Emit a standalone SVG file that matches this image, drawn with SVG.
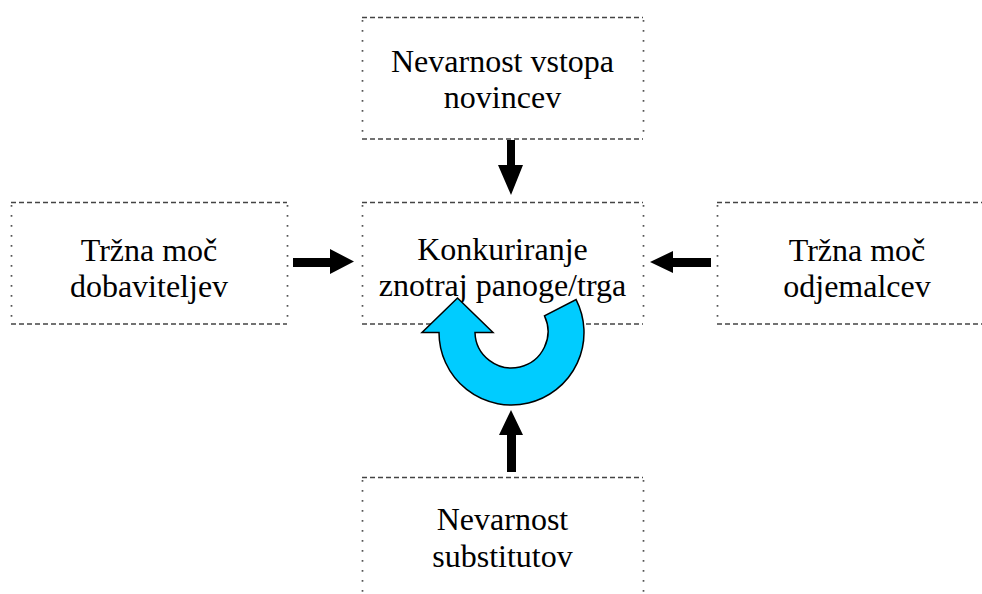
<svg xmlns="http://www.w3.org/2000/svg" width="982" height="594" viewBox="0 0 982 594">
  <style>
    .bg { fill: #ffffff; }
    .edge-h { fill: none; stroke: #444444; stroke-width: 1.7; stroke-dasharray: 5 3; }
    .edge-v { fill: none; stroke: #555555; stroke-width: 1.7; stroke-dasharray: 1.7 8.3; }
    .label { font-family: "Liberation Serif", "DejaVu Serif", "Times New Roman", Times, serif; font-size: 32px; fill: #000000; text-anchor: middle; }
    .arrow { fill: #000000; stroke: none; }
    .cycle { fill: #00ccff; stroke: #000000; stroke-width: 1.5; stroke-linejoin: miter; }
  </style>

  <rect class="bg" x="0" y="0" width="982" height="594"/>

  <!-- Threat of new entrants -->
  <g id="node-entrants">
    <path class="edge-h" d="M362 17.5 H643 M362 139 H643"/>
    <path class="edge-v" d="M362.5 20 V139 M643.5 20 V139"/>
    <text class="label" x="502.5" y="72">Nevarnost vstopa</text>
    <text class="label" x="502.5" y="108">novincev</text>
  </g>

  <!-- Supplier power -->
  <g id="node-suppliers">
    <path class="edge-h" d="M11 202.5 H287 M11 324 H287"/>
    <path class="edge-v" d="M11.5 205 V324 M287.5 205 V324"/>
    <text class="label" x="149" y="261">Tržna moč</text>
    <text class="label" x="149" y="297">dobaviteljev</text>
  </g>

  <!-- Rivalry within the industry -->
  <g id="node-rivalry">
    <path class="edge-h" d="M362 202.5 H643 M362 324 H643"/>
    <path class="edge-v" d="M362.5 205 V324 M643.5 205 V324"/>
    <text class="label" x="502.5" y="260">Konkuriranje</text>
    <text class="label" x="502.5" y="296">znotraj panoge/trga</text>
  </g>

  <!-- Buyer power -->
  <g id="node-buyers">
    <path class="edge-h" d="M717 202.5 H982 M717 324 H982"/>
    <path class="edge-v" d="M717.5 205 V324"/>
    <text class="label" x="857" y="261">Tržna moč</text>
    <text class="label" x="857" y="297">odjemalcev</text>
  </g>

  <!-- Threat of substitutes -->
  <g id="node-substitutes">
    <path class="edge-h" d="M362 477.5 H643"/>
    <path class="edge-v" d="M362.5 480 V594 M643.5 480 V594"/>
    <text class="label" x="502.5" y="530">Nevarnost</text>
    <text class="label" x="502.5" y="567">substitutov</text>
  </g>

  <!-- Block arrows pointing into the rivalry box -->
  <g id="connectors">
    <polygon class="arrow" points="507,140 515,140 515,165 523,165 511,195 498,165 507,165"/>
    <polygon class="arrow" points="293,258 330,258 330,249 354,261.5 330,274 330,267 293,267"/>
    <polygon class="arrow" points="711,258 673,258 673,251 650,262 673,273 673,267 711,267"/>
    <polygon class="arrow" points="507,472 516,472 516,435 523,435 511,410 499,435 507,435"/>
  </g>

  <!-- Circular rivalry arrow -->
  <g id="cycle-arrow">
    <circle cx="511.5" cy="332.5" r="36.5" fill="#ffffff"/>
    <path class="cycle" d="M576.1 299.6 A72.5 72.5 0 1 1 439 332.5 L422 332.5 L457.5 298 L493 332.5 L475 332.5 A36.5 36.5 0 1 0 544.5 315.9 Z"/>
  </g>
</svg>
